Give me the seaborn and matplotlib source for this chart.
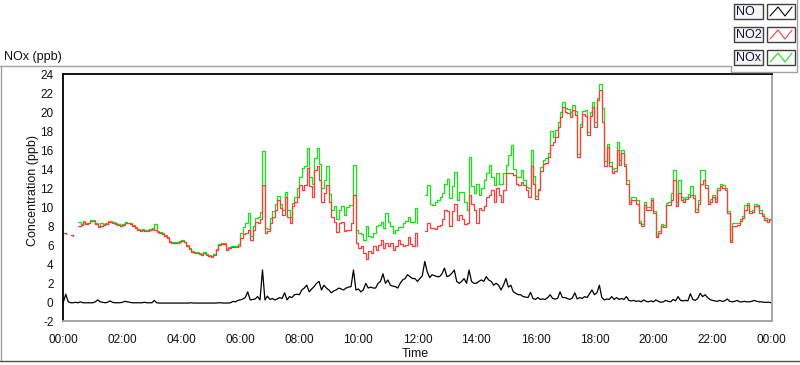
import numpy as np
import pandas as pd
import seaborn as sns
import matplotlib.pyplot as plt
from matplotlib.lines import Line2D
from matplotlib.patches import Rectangle
from matplotlib.ticker import FuncFormatter

nan = np.nan

# 5-minute readings, 00:00 .. 24:00 (one row per hour)
no2 = [
    7.3, 7.2, nan, 7.05, 7.0, nan, 8.0, 8.1, 8.45, 8.2, 8.3, 8.6,
    8.55, 8.2, 7.95, 8.0, 8.1, 8.2, 8.45, 8.5, 8.4, 8.2, 8.1, 8.0,
    8.15, 8.3, 8.3, 8.2, 8.0, 7.8, 7.65, 7.55, 7.6, 7.55, 7.55, 7.65,
    7.7, 7.6, 7.45, 7.3, 7.15, 7.0, 6.8, 6.4, 6.25, 6.2, 6.2, 6.35,
    6.5, 6.3, 5.95, 5.6, 5.3, 5.2, 5.2, 5.05, 5.0, 5.2, 4.95, 4.85,
    4.8, 5.0, 5.5, 6.0, 6.1, 6.1, 5.5, 5.7, 5.8, 5.85, 5.8, 5.9,
    6.8, 7.2, 7.3, 7.6, 6.6, 7.6, 8.5, 8.3, 8.8, 12.3, 7.3, 7.5,
    8.3, 9.0, 9.7, 10.8, 9.9, 9.2, 11.1, 9.0, 8.3, 10.1, 10.6, 11.1,
    12.3, 11.8, 12.4, 14.1, 12.2, 11.1, 13.9, 14.3, 12.9, 10.6, 11.5, 12.35,
    10.6, 9.0, 8.5, 7.4, 8.3, 8.5, 7.5, 7.6, 7.6, 8.3, 11.3, 6.2,
    5.7, 5.9, 5.2, 4.6, 5.4, 5.2, 5.9, 5.5, 6.0, 6.6, 5.7, 6.2,
    5.9, 6.2, 5.5, 5.9, 6.6, 6.1, 5.9, 6.0, 6.9, 6.1, 5.9, 7.3,
    5.9, nan, nan, 7.5, 8.3, 7.8, 7.8, 7.7, 8.0, 8.1, 8.8, 9.7,
    9.6, 8.0, 9.6, 10.3, 8.7, 9.2, 8.8, 8.2, 8.3, 11.3, 10.4, 9.7,
    8.3, 9.9, 9.7, 10.1, 11.1, 11.3, 11.8, 10.6, 12.0, 11.3, 10.6, 11.8,
    13.6, 13.6, 13.6, 13.4, 12.5, 12.4, 12.7, 12.3, 11.8, 11.1, 14.3, 12.5,
    10.9, 11.8, 13.8, 14.6, 14.7, 15.3, 16.6, 16.9, 17.4, 18.5, 19.5, 20.6,
    20.0, 19.9, 19.5, 20.2, 19.7, 15.3, 18.5, 19.8, 19.6, 17.6, 19.6, 20.6,
    18.5, 21.3, 22.3, 19.0, 14.3, 16.4, 14.3, 13.6, 13.8, 16.0, 14.5, 15.7,
    14.3, 12.5, 10.3, 10.8, 10.8, 10.4, 8.3, 8.0, 10.2, 9.7, 9.7, 10.8,
    9.4, 6.9, 7.3, 8.0, 7.9, 10.2, 10.2, 10.8, 12.9, 10.1, 11.5, 10.8,
    10.6, 10.9, 11.1, 11.3, 11.0, 9.5, 10.4, 12.5, 12.9, 12.0, 10.4, 10.6,
    11.1, 10.6, 11.8, 12.2, 12.0, 11.8, 9.4, 6.4, 8.0, 8.0, 8.1, 8.6,
    8.9, 9.7, 10.2, 9.4, 9.5, 10.1, 10.1, 9.4, 9.1, 8.7, 8.5, 8.7,
    8.7,
]

nox = [
    7.3, 7.2, nan, 7.05, 7.0, nan, 8.5, 8.2, 8.55, 8.3, 8.4, 8.7,
    8.65, 8.3, 8.05, 8.4, 8.2, 8.3, 8.55, 8.6, 8.5, 8.3, 8.2, 8.1,
    8.25, 8.45, 8.4, 8.3, 8.1, 7.9, 7.75, 7.65, 7.7, 7.65, 7.65, 7.75,
    7.8, 8.2, 7.55, 7.4, 7.25, 7.1, 6.9, 6.5, 6.35, 6.3, 6.3, 6.45,
    6.6, 6.4, 6.05, 5.7, 5.4, 5.3, 5.3, 5.15, 5.1, 5.3, 5.05, 4.95,
    4.9, 5.1, 5.6, 6.1, 6.2, 6.2, 5.6, 5.8, 5.9, 5.95, 5.9, 6.1,
    7.3, 7.9, 8.4, 9.4, 7.0, 8.0, 8.9, 9.0, 9.5, 15.9, 7.8, 7.7,
    8.9, 9.6, 10.3, 11.2, 10.4, 9.7, 11.6, 9.7, 9.0, 10.5, 11.1, 12.0,
    13.2, 14.1, 14.3, 16.2, 13.2, 12.5, 15.2, 16.2, 14.6, 12.0, 12.9, 14.3,
    11.4, 9.7, 10.1, 8.8, 9.7, 10.1, 9.2, 10.0, 10.2, 10.2, 14.5, 7.6,
    7.3, 7.2, 6.6, 8.0, 7.0, 6.9, 7.3, 8.0, 8.1, 8.5, 7.8, 9.4,
    8.5, 8.0, 7.3, 7.6, 7.9, 7.9, 8.3, 8.6, 9.0, 8.5, 8.5, 9.9,
    8.3, nan, nan, 11.3, 12.35, 10.3, 10.2, 10.6, 10.8, 11.1, 11.5, 12.5,
    13.0, 11.0, 12.2, 13.75, 10.8, 11.6, 11.6, 10.6, 9.7, 15.3, 12.2, 11.5,
    12.5, 11.3, 12.0, 12.9, 13.6, 14.5, 13.2, 12.3, 13.6, 12.5, 12.5, 13.6,
    14.5, 15.5, 16.6, 14.0, 13.2, 13.2, 13.9, 12.9, 12.1, 12.0, 16.0, 13.3,
    11.2, 11.9, 14.2, 15.0, 15.2, 15.7, 18.0, 17.4, 18.1, 19.0, 20.0, 21.1,
    20.5, 20.3, 20.0, 20.8, 20.1, 15.6, 18.8, 20.1, 20.2, 17.9, 20.0, 21.1,
    19.0, 21.5, 23.0, 20.5, 14.9, 16.7, 14.8, 14.0, 14.1, 16.9, 15.0, 16.0,
    14.6, 12.9, 10.6, 11.1, 11.1, 10.8, 8.6, 8.2, 10.6, 10.0, 10.0, 11.0,
    9.6, 7.0, 7.5, 8.2, 8.1, 10.5, 10.6, 11.5, 13.9, 10.6, 12.9, 11.1,
    10.9, 11.1, 11.4, 12.2, 11.3, 9.8, 10.8, 13.9, 13.9, 12.4, 10.7, 10.9,
    11.3, 10.9, 12.0, 12.5, 12.3, 12.0, 9.6, 6.6, 8.3, 8.4, 8.4, 8.8,
    9.1, 10.2, 10.5, 9.6, 9.7, 10.3, 10.2, 9.7, 9.3, 8.9, 8.8, 8.8,
    8.8,
]

no = [
    0.0, 0.85, 0.05, -0.05, -0.05, 0.0, -0.05, 0.05, -0.05, -0.05, -0.05, -0.05,
    -0.05, 0.05, 0.25, 0.05, 0.0, -0.05, 0.0, 0.15, 0.0, -0.05, -0.05, -0.05,
    0.0, 0.1, 0.05, 0.0, -0.05, -0.05, -0.05, -0.05, -0.05, 0.0, -0.05, -0.05,
    -0.05, 0.2, -0.05, -0.08, -0.08, -0.08, -0.08, -0.08, -0.08, -0.08, -0.08, -0.08,
    -0.08, -0.08, -0.08, -0.08, -0.05, -0.08, -0.08, -0.08, -0.08, -0.08, -0.08, -0.08,
    -0.08, -0.08, -0.08, -0.05, -0.05, -0.08, -0.08, -0.08, -0.05, 0.1, 0.05, 0.2,
    0.25, 0.35, 0.5, 1.1, 0.25, 0.3, 0.35, 0.6, 0.25, 3.4, 0.25, 0.65,
    0.3, 0.4, 0.25, 0.35, 0.5, 0.4, 1.0, 0.25, 0.6, 0.5, 0.8, 0.85,
    0.8, 1.3, 1.5, 1.8, 1.1, 1.4, 1.65, 2.0, 2.2, 1.3, 1.8, 1.5,
    1.3, 1.0, 1.2, 1.3, 1.5, 1.4, 1.3, 1.5, 1.6, 1.65, 3.4, 1.3,
    1.4, 1.1, 1.3, 2.0, 1.5, 1.6, 1.5, 1.5, 2.0, 2.2, 3.0, 2.0,
    2.35, 1.8, 1.7, 1.65, 1.5, 2.0, 2.35, 2.5, 2.9, 2.7, 2.5, 2.5,
    2.2, 2.5, 2.8, 4.3, 3.2, 2.6, 2.9, 2.8, 2.7, 2.7, 3.0, 3.6,
    2.7, 2.8, 3.05, 3.4, 2.2, 2.0, 2.2, 2.5, 2.0, 3.4, 2.2, 2.0,
    2.0, 2.2, 2.35, 2.2, 2.7, 2.35, 2.2, 1.8, 2.0, 1.8, 1.3, 1.8,
    2.5, 1.6, 1.8, 1.1, 0.95, 0.8, 0.8, 0.6, 0.55, 0.5, 1.05, 0.4,
    0.3, 0.5, 0.3, 0.35, 0.3, 0.5, 0.8, 0.4, 0.35, 0.4, 1.1, 0.5,
    0.5, 0.4, 0.3, 0.45, 1.0, 0.35, 0.5, 0.4, 0.6, 0.5, 0.9, 1.3,
    0.8, 1.0, 1.8, 0.5, 0.25, 0.35, 0.3, 0.6, 0.3, 0.5, 0.3, 0.4,
    0.3, 0.6, 0.2, 0.15, 0.2, 0.1, 0.15, 0.05, 0.25, 0.1, 0.05, 0.15,
    0.05, 0.25, 0.1, 0.0, 0.05, 0.2, 0.1, 0.05, 0.3, 0.15, 0.6, 0.2,
    0.15, 0.2, 0.15, 0.9, 0.3, 0.2, 0.4, 0.95, 0.6, 0.8, 0.5, 0.3,
    0.2, 0.15, 0.1, 0.2, 0.1, 0.15, 0.35, 0.1, 0.05, 0.1, 0.2, 0.05,
    0.05, 0.1, 0.05, 0.05, 0.1, 0.2, 0.1, 0.05, 0.05, 0.0, 0.0, 0.0,
    -0.05,
]

series_names = ["NO", "NO2", "NOx"]
series_colors = {"NO": "#000000", "NO2": "#ff3c3c", "NOx": "#14e614"}
x_tick_hours = list(range(0, 25, 2))
y_ticks = list(range(-2, 25, 2))

W, H = 800, 365
sns.set_style("white")
plt.rcParams["font.family"] = ["Liberation Sans", "DejaVu Sans"]
plt.rcParams["axes.unicode_minus"] = False

hours = np.arange(len(no2)) * 5 / 60.0

# long table, one unit per unbroken run so that gaps stay gaps
frames = []
for name, vals in [("NOx", nox), ("NO2", no2), ("NO", no)]:
    s = pd.Series(vals, dtype=float)
    seg = s.isna().cumsum()
    d = pd.DataFrame({"hour": hours, "value": s, "series": name,
                      "unit": name + "_" + seg.astype(str)})
    frames.append(d.dropna())
df = pd.concat(frames, ignore_index=True)

fig = plt.figure(figsize=(W / 100, H / 100), dpi=100)
fig.patch.set_facecolor("white")


def px(x, y):
    return x / W, 1 - y / H


l, t, r, b = 63.3, 74.3, 771.5, 321.3
ax = fig.add_axes([l / W, 1 - b / H, (r - l) / W, (b - t) / H])

# NOx under NO2 (stepped, like the logger trace), NO on top
sns.lineplot(data=df[df["series"] != "NO"], x="hour", y="value", hue="series",
             units="unit", estimator=None, hue_order=["NOx", "NO2"],
             palette=series_colors, drawstyle="steps-post", linewidth=0.9,
             legend=False, ax=ax)
sns.lineplot(data=df[df["series"] == "NO"], x="hour", y="value", hue="series",
             units="unit", estimator=None, palette=series_colors,
             linewidth=0.9, legend=False, ax=ax)

ax.set_xlim(0, 24)
ax.set_ylim(-2, 24)
ax.set_xticks(x_tick_hours)
ax.set_xticks(np.arange(0, 24.01, 0.25), minor=True)
ax.xaxis.set_major_formatter(FuncFormatter(lambda v, p: "%02d:00" % (int(round(v)) % 24)))
ax.set_yticks(y_ticks)
ax.tick_params(axis="both", which="major", direction="out", length=5, width=1,
               color="black", labelsize=8.5, labelcolor="#111111", pad=2)
ax.tick_params(axis="x", which="minor", direction="out", length=3, width=1,
               color="black")
ax.tick_params(axis="x", which="major", pad=4)

for side in ["top", "left"]:
    ax.spines[side].set_color("black")
    ax.spines[side].set_linewidth(1.3)
for side in ["bottom", "right"]:
    ax.spines[side].set_color("#a0a0a0")
    ax.spines[side].set_linewidth(1.3)

ax.set_xlabel("Time", fontsize=9, color="#111111")
ax.set_ylabel("Concentration (ppb)", fontsize=9, color="#111111")
ax.xaxis.set_label_coords(0.497, -0.108)
ax.yaxis.set_label_coords(-0.034, 0.53)


# frame around the chart
def fig_line(x0, y0, x1, y1, color="#a0a0a0", lw=1.0):
    a, b_ = px(x0, y0)
    c, d = px(x1, y1)
    fig.add_artist(Line2D([a, c], [b_, d], color=color, lw=lw))


fig_line(0, 65.5, 731, 65.5)
fig_line(1, 65.5, 1, 361)
fig_line(0, 361, W, 361, color="#505050")
fig_line(731, 65.5, 731, 72)
fig_line(731, 72, 797, 72)
fig_line(797, 0, 797, 72)

fig.text(*px(4, 57), "NOx (ppb)", fontsize=9, color="#111111", va="center", ha="left")

# legend panel
for i, name in enumerate(series_names):
    top = 4 + 23 * i
    x0, y0 = px(734, top + 15)
    fig.add_artist(Rectangle((x0, y0), 29 / W, 15 / H, transform=fig.transFigure,
                             facecolor="#f4f4f4", edgecolor="#404040", lw=1))
    fig.text(*px(736, top + 8), name, fontsize=9, color="#10104a", va="center", ha="left")
    x1, y1 = px(767, top + 15)
    fig.add_artist(Rectangle((x1, y1), 28 / W, 15 / H, transform=fig.transFigure,
                             facecolor="white", edgecolor="#404040", lw=1))
    zx = [770, 778, 785, 792]
    zy = [top + 12, top + 3, top + 12, top + 3]
    pts = [px(a, c) for a, c in zip(zx, zy)]
    fig.add_artist(Line2D([p[0] for p in pts], [p[1] for p in pts],
                          color=series_colors[name], lw=0.8))

fig.savefig("out.png", dpi=100, facecolor="white")
